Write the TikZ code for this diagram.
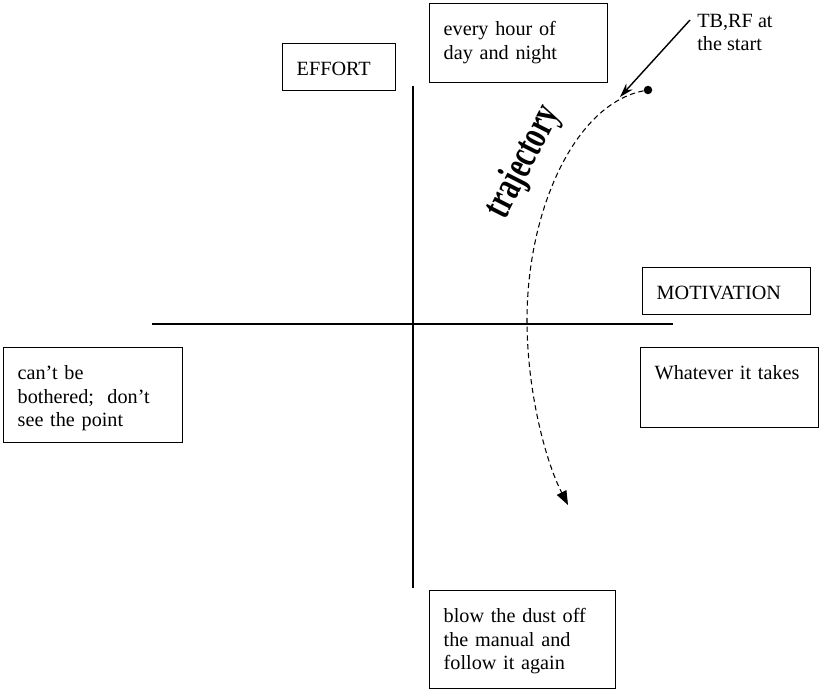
\documentclass[tikz,border=0pt]{standalone}
\usepackage{fontspec}
\setmainfont{Liberation Serif}
\usetikzlibrary{arrows.meta,calc}

\begin{document}
\begin{tikzpicture}[
    x=0.02cm,
    y=-0.02cm,
    font=\fontsize{11.5}{13.3}\selectfont,
    axis/.style={
        line width=0.8pt
    },
    qbox/.style={
        draw,
        line width=0.8pt,
        anchor=north west,
        align=left,
        inner xsep=0.28cm,
        inner ysep=0.30cm,
        text height=0.34cm
    },
    traj/.style={
        line width=0.6pt,
        dash pattern=on 3pt off 2pt,
        -{Triangle[length=8pt,width=6pt]}
    },
    pointer/.style={
        line width=0.8pt,
        -{Stealth[length=8pt,width=5pt]}
    },
    dotnode/.style={
        circle,
        fill,
        inner sep=0pt,
        minimum size=0.17cm
    },
    note/.style={
        anchor=north west,
        align=left,
        inner sep=0pt
    }
]
\useasboundingbox (0,0) rectangle (820,692);

% The two axes crossing at the origin
\coordinate (axisW) at (152,324);
\coordinate (axisE) at (673,324);
\coordinate (axisN) at (413,86);
\coordinate (axisS) at (413,588);

\draw[axis] (axisW) -- (axisE);
\draw[axis] (axisN) -- (axisS);


% Axis names
\node[qbox, text width=1.70cm, text depth=-0.14cm] (effort) at (282,43)
    {EFFORT};
\node[qbox, text width=2.80cm, text depth=-0.22cm] (motiv) at (642,267)
    {MOTIVATION};


% Labels at the far end of each half-axis
\node[qbox, text width=3.00cm, text depth=0.64cm] (hour) at (429,3)
    {every hour of\\day and night};
\node[qbox, text width=3.00cm, text depth=0.66cm] (whatever) at (640,347)
    {Whatever it takes};
\node[qbox, text width=3.02cm, text depth=0.96cm] (cant) at (3,347)
    {can't be\\bothered;\ \ don't\\see the point};
\node[qbox, text width=3.16cm, text depth=1.02cm] (blow) at (429,590)
    {blow the dust off\\the manual and\\follow it again};


% Trajectory from the starting point
\node[dotnode] (start) at (648,90) {};

\draw[traj] (start)
    .. controls (575,104) and (527,210) .. (527,320)
    .. controls (527,390) and (545,460) .. (568,505);

\node[rotate=63, xscale=0.92, yscale=1.35, transform shape,
      font=\fontsize{17.5}{17.5}\selectfont\bfseries] (trajlab) at (524,162)
    {trajectory};


% Where TB and RF began
\node[note] (tbrf) at (697,14) {TB,RF at\\the start};

\coordinate (tbtail) at (690,20);
\coordinate (tbhead) at (620,97);
\draw[pointer] (tbtail) -- (tbhead);

\end{tikzpicture}
\end{document}
